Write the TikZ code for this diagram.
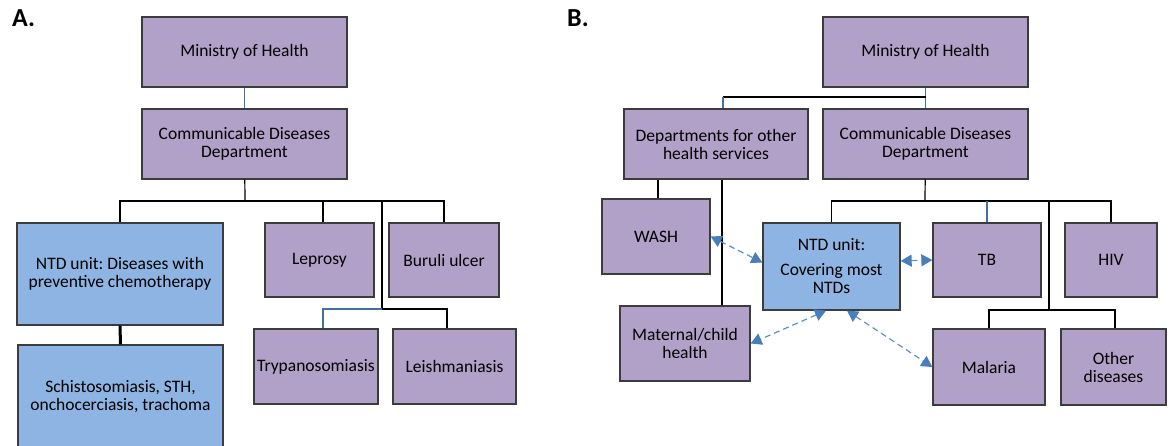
\documentclass[tikz,border=0pt]{standalone}
\usepackage{fontspec}
\setmainfont{Carlito}
\usetikzlibrary{positioning, calc, arrows.meta}
\definecolor{boxpurple}{HTML}{B1A0C7}
\definecolor{boxblue}{HTML}{8DB4E2}
\definecolor{boxline}{HTML}{3C3C3C}
\definecolor{stemblue}{HTML}{41719C}
\definecolor{dashblue}{HTML}{5B8FD0}
\definecolor{tipblue}{HTML}{4A7EBB}
\frenchspacing

\begin{document}
\begin{tikzpicture}[x=1pt, y=1pt,
    box/.style={draw=boxline, line width=1.3pt, fill=boxpurple, inner sep=0pt,
                align=center, font=\fontsize{17.5}{18}\selectfont},
    ntdbox/.style={box, fill=boxblue},
    bar/.style={line width=1.2pt, black},
    bluebar/.style={line width=1.2pt, stemblue},
    link/.style={dashblue, line width=1.2pt, dash pattern=on 6pt off 4pt,
                 {Triangle[length=11pt,width=12pt,color=tipblue]}-{Triangle[length=11pt,width=12pt,color=tipblue]}},
    panel/.style={font=\fontsize{26}{28}\selectfont\bfseries, inner sep=0pt, anchor=base west}]
\useasboundingbox (0,0) rectangle (1170,-446);

% panel A
\node[panel] (labA) at (12,-27) {A.};
\node[box, minimum width=205pt, minimum height=70pt] (mohA) at (244.5,-52) {Ministry of Health};
\node[box, minimum width=205pt, minimum height=70pt] (cddA) at (244.5,-144) {Communicable Diseases\\Department};
\node[ntdbox, minimum width=206pt, minimum height=102pt] (ntdA) at (120,-274) {NTD unit: Diseases with\\preventive chemotherapy};
\node[ntdbox, minimum width=205pt, minimum height=104pt] (schA) at (120.5,-397) {Schistosomiasis, STH,\\onchocerciasis, trachoma};
\node[box, minimum width=109pt, minimum height=74pt] (lepA) at (319.5,-260) {Leprosy};
\node[box, minimum width=110pt, minimum height=74pt] (burA) at (444,-260) {Buruli ulcer};
\node[box, minimum width=124pt, minimum height=75pt] (trypA) at (316,-366.5) {Trypanosomiasis};
\node[box, minimum width=123pt, minimum height=75pt] (leiA) at (454.5,-366.5) {Leishmaniasis};

\coordinate (busA) at (245,-201);
\coordinate (subA) at (382,-309);
\draw[bluebar] (mohA) -- (cddA);
\draw[bar] (cddA) -- (busA);
\draw[bar] (ntdA.north) |- (busA) -| (burA.north);
\draw[bar] ([xshift=3.5pt]lepA.north) -- ([xshift=3.5pt]lepA.north |- busA);
\draw[bar] (subA |- busA) -- (subA);
\draw[bluebar] ([xshift=7pt]trypA.north) |- (subA);
\draw[bar] (subA) -| ([xshift=-7.5pt]leiA.north);
\draw[line width=3pt] (ntdA) -- (schA);

% panel B
\node[panel] (labB) at (567,-27) {B.};
\node[box, minimum width=205pt, minimum height=70pt] (mohB) at (925.5,-52) {Ministry of Health};
\node[box, minimum width=184pt, minimum height=70pt] (depB) at (716,-144) {Departments for other\\health services};
\node[box, minimum width=205pt, minimum height=70pt] (cddB) at (925.5,-144) {Communicable Diseases\\Department};
\node[box, minimum width=108pt, minimum height=75pt] (washB) at (656,-236.5) {WASH};
\node[box, minimum width=130pt, minimum height=75pt] (matB) at (685,-343.5) {Maternal/child\\health};
\node[ntdbox, minimum width=137pt, minimum height=87pt] (ntdB) at (831.5,-266.5) {NTD unit:\\[7pt]Covering most\\NTDs};
\node[box, minimum width=108pt, minimum height=74pt] (tbB) at (987,-260) {TB};
\node[box, minimum width=92pt, minimum height=74pt] (hivB) at (1111,-260) {HIV};
\node[box, minimum width=112pt, minimum height=76pt] (malB) at (989,-367) {Malaria};
\node[box, minimum width=105pt, minimum height=76pt] (othB) at (1113.5,-367) {Other\\diseases};

\coordinate (topB) at (926,-97);
\coordinate (depstem) at ([xshift=7pt]depB.north);
\coordinate (matstem) at ([xshift=37pt]matB.north);
\coordinate (busB) at (925,-201);
\coordinate (subB) at (1049,-310);
\draw[bluebar] (mohB) -- (cddB);
\draw[bar] (topB) -- (depstem |- topB);
\draw[bluebar] (depstem |- topB) -- (depstem);
\draw[bar] ([xshift=2pt]washB.north) -- ([xshift=2pt]washB.north |- depB.south);
\draw[bar] (matstem) -- (matstem |- depB.south);
\draw[bar] (cddB) -- (busB);
\draw[bar] (ntdB.north) |- (busB) -| (hivB.north);
\draw[bluebar] (tbB.north) -- (tbB.north |- busB);
\draw[bar] (subB |- busB) -- (subB);
\draw[bar] (malB.north) |- (subB) -| ([xshift=1.5pt]othB.north);

\draw[link] (washB.east) -- ([yshift=4pt]ntdB.west);
\draw[link] ([yshift=5.5pt]ntdB.east) -- (tbB.west);
\draw[link] ([xshift=-5.5pt]ntdB.south) -- (matB.east);
\draw[link] ([xshift=15.5pt]ntdB.south) -- (malB.west);
\end{tikzpicture}
\end{document}
